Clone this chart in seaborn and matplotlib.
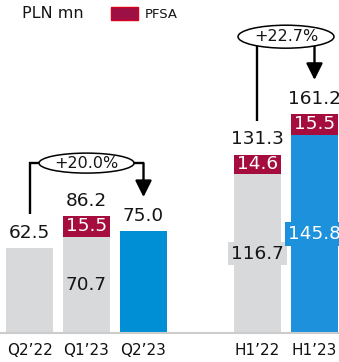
import matplotlib
matplotlib.use("Agg")
import matplotlib.pyplot as plt
from matplotlib.patches import Ellipse, Patch
import pandas as pd
import seaborn as sns

# Revenue by period, PLN mn
categories = ["Q2’22", "Q1’23", "Q2’23", "H1’22", "H1’23"]
totals = [62.5, 86.2, 75.0, 131.3, 161.2]
base = [62.5, 70.7, 75.0, 116.7, 145.8]
pfsa = [0.0, 15.5, 0.0, 14.6, 15.5]
growth_labels = ["+20.0%", "+22.7%"]

GRAY = "#D8D9DB"
RED = "#A40D3E"
BLUE_Q = "#008FD5"
BLUE_H = "#1D91DC"
bar_colors = {"Q2’22": GRAY, "Q1’23": GRAY, "Q2’23": BLUE_Q,
              "H1’22": GRAY, "H1’23": BLUE_H}

GAP = " "
order = categories[:3] + [GAP] + categories[3:]

df = pd.DataFrame({"period": categories, "total": totals,
                   "base": base, "pfsa": pfsa})
pos = {c: order.index(c) for c in categories}

sns.set_theme(style="white")
plt.rcParams["font.family"] = ["DejaVu Sans"]

fig = plt.figure(figsize=(3.39, 3.62), dpi=100)
ax = fig.add_axes([0, 29 / 362, 1, 333 / 362])

BAR_W = 0.825
# PFSA layer: full height in red, the base segment is drawn over it
sns.barplot(data=df[df["pfsa"] > 0], x="period", y="total", order=order,
            color=RED, saturation=1, width=BAR_W, linewidth=0, ax=ax)
sns.barplot(data=df, x="period", y="base", order=order, hue="period",
            palette=bar_colors, dodge=False, legend=False, saturation=1,
            width=BAR_W, linewidth=0, ax=ax)

ax.set_xlim(-0.518, 5.43)
ax.set_ylim(0, 245)
ax.set_xlabel("")
ax.set_ylabel("")
ax.set_yticks([])
for side in ("top", "left", "right"):
    ax.spines[side].set_visible(False)
ax.spines["bottom"].set_color("#CCCCCC")
ax.spines["bottom"].set_linewidth(1.5)
ax.tick_params(axis="x", length=0, pad=7.5, labelsize=11, labelcolor="#111111")

VAL_FS = 13.3
TXT = "#151515"

for _, r in df.iterrows():
    x = pos[r["period"]]
    ax.annotate(f"{r['total']:.1f}", (x, r["total"]), xytext=(0, 11),
                textcoords="offset points", ha="center", va="center",
                fontsize=VAL_FS, color=TXT)
    if r["pfsa"] > 0:
        ax.text(x, r["base"] + r["pfsa"] / 2, f"{r['pfsa']:.1f}",
                ha="center", va="center", fontsize=VAL_FS, color="white")
        col = bar_colors[r["period"]]
        fg = "white" if col != GRAY else TXT
        ax.text(x, r["base"] / 2, f"{r['base']:.1f}", ha="center",
                va="center", fontsize=VAL_FS, color=fg,
                bbox=dict(boxstyle="square,pad=0.15", fc=col, ec="none"))


def growth_bracket(i0, i1, y_ell, text, ell_w, ell_h, lift=25):
    x0, x1 = pos[i0], pos[i1]
    v0 = totals[categories.index(i0)]
    v1 = totals[categories.index(i1)]
    lw = 1.7
    ax.plot([x0, x0, x1], [v0 + lift, y_ell, y_ell], color="black",
            lw=lw, solid_capstyle="butt", solid_joinstyle="miter", zorder=4)
    ax.annotate("", xy=(x1, v1 + lift), xytext=(x1, y_ell),
                arrowprops=dict(arrowstyle="-|>,head_length=1.0,head_width=0.5",
                                mutation_scale=10, lw=lw, color="black",
                                shrinkA=0, shrinkB=0), zorder=4)
    xc = (x0 + x1) / 2
    ax.add_patch(Ellipse((xc, y_ell), ell_w, ell_h, fc="white", ec="black",
                         lw=1.1, zorder=5))
    ax.text(xc, y_ell, text, ha="center", va="center", fontsize=11.5,
            color=TXT, zorder=6)


growth_bracket("Q2’22", "Q2’23", 125, growth_labels[0], 1.667, 14.7)
growth_bracket("H1’22", "H1’23", 218, growth_labels[1], 1.684, 16.9)

fig.text(22 / 339, 1 - 13 / 362, "PLN mn", ha="left", va="center",
         fontsize=11.5, color=TXT)
fig.legend(handles=[Patch(facecolor="#9C1045", edgecolor="#D8001C",
                          linewidth=1.0, label="PFSA")],
           loc="upper left", bbox_to_anchor=(111 / 339, 1 - 7 / 362),
           bbox_transform=fig.transFigure, frameon=False, fontsize=9.5,
           handlelength=2.05, handleheight=1.14, handletextpad=0.5,
           borderpad=0, borderaxespad=0, labelcolor=TXT)

fig.savefig("out.png", dpi=100)
